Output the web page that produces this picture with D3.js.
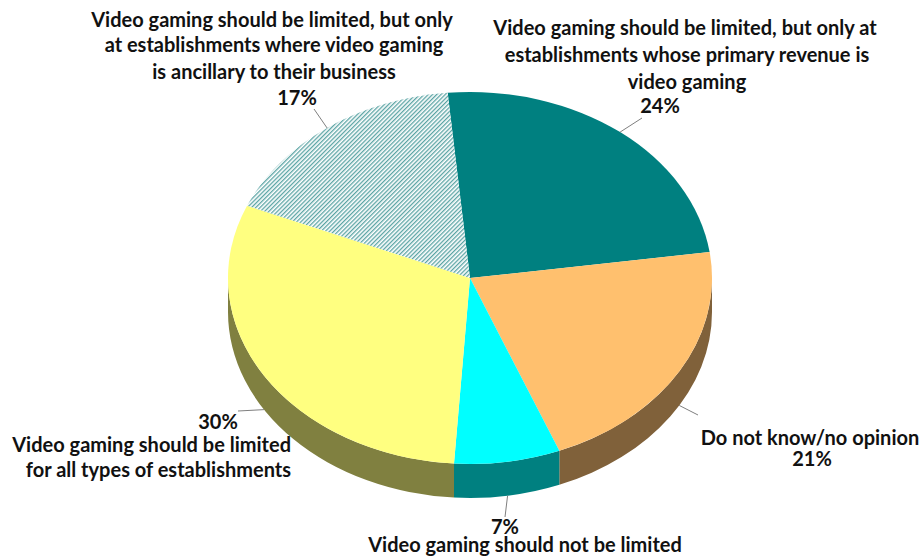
<!DOCTYPE html>
<html>
<head>
<meta charset="utf-8">
<script src="https://cdn.jsdelivr.net/npm/d3@7"></script>
<style>
  html, body { margin: 0; padding: 0; background: #ffffff; }
  svg text { font-family: Lato, "Open Sans", sans-serif; font-weight: 700; font-size: 20px; fill: #111; }
</style>
</head>
<body>
<svg id="chart" width="924" height="557"></svg>
<script>
// Survey responses (percent), in drawing order clockwise from the top
const categories = [
  "Video gaming should be limited, but only at establishments whose primary revenue is video gaming",
  "Do not know/no opinion",
  "Video gaming should not be limited",
  "Video gaming should be limited for all types of establishments",
  "Video gaming should be limited, but only at establishments where video gaming is ancillary to their business"
];
const values = [24, 21, 7, 30, 17];
const valueLabels = ["24%", "21%", "7%", "30%", "17%"];
const topColors = ["#008080", "#FFC06E", "#00FFFF", "#FFFF80", "url(#hatch)"];
const sideColors = ["#004848", "#80613A", "#008080", "#808040", "#5a8f8f"];

const svg = d3.select("#chart");

// Diagonal hatch for the last slice
const defs = svg.append("defs");
const pat = defs.append("pattern")
  .attr("id", "hatch")
  .attr("patternUnits", "userSpaceOnUse")
  .attr("width", 3).attr("height", 3)
  .attr("patternTransform", "rotate(45)");
pat.append("rect").attr("width", 3).attr("height", 3).attr("fill", "#ffffff");
pat.append("rect").attr("x", 0).attr("width", 1.3).attr("height", 3).attr("fill", "#5aa4a4");

// Ellipse geometry of the tilted pie
const cx = 470, cy = 278, rx = 242, ry = 186, depth = 34;
const toRad = d => d * Math.PI / 180;
const startDeg = -5.3;

const pie = d3.pie().sort(null).value(d => d)
  .startAngle(toRad(startDeg)).endAngle(toRad(startDeg + 360));
const arcs = pie(values);

// angle measured clockwise from 12 o'clock
const pt = (a, dy = 0) => [cx + rx * Math.sin(a), cy - ry * Math.cos(a) + dy];

function topPath(a0, a1) {
  const p0 = pt(a0), p1 = pt(a1);
  const large = (a1 - a0) > Math.PI ? 1 : 0;
  return `M${cx},${cy}L${p0[0]},${p0[1]}A${rx},${ry} 0 ${large} 1 ${p1[0]},${p1[1]}Z`;
}

function sidePath(a0, a1) {
  const p0 = pt(a0), p1 = pt(a1), q1 = pt(a1, depth), q0 = pt(a0, depth);
  const large = (a1 - a0) > Math.PI ? 1 : 0;
  return `M${p0[0]},${p0[1]}A${rx},${ry} 0 ${large} 1 ${p1[0]},${p1[1]}` +
         `L${q1[0]},${q1[1]}A${rx},${ry} 0 ${large} 0 ${q0[0]},${q0[1]}Z`;
}

// Visible rim: the front half between 3 and 9 o'clock
const frontLo = Math.PI / 2, frontHi = 3 * Math.PI / 2;
const gSide = svg.append("g");
arcs.forEach((d, i) => {
  const s = Math.max(d.startAngle, frontLo), e = Math.min(d.endAngle, frontHi);
  if (e > s) {
    gSide.append("path").attr("d", sidePath(s, e)).attr("fill", sideColors[i]);
  }
});

const gTop = svg.append("g");
gTop.selectAll("path").data(arcs).join("path")
  .attr("d", d => topPath(d.startAngle, d.endAngle))
  .attr("fill", (d, i) => topColors[i]);

// Leader lines: from the label toward the slice rim
const mid = d => (d.startAngle + d.endAngle) / 2;
const leaderEnds = [[642, 118], [698, 415], [505, 517], [238, 411], [314, 109]];
const gLead = svg.append("g");
arcs.forEach((d, i) => {
  const a = mid(d);
  const front = Math.cos(a) < 0;
  const p = pt(a, front ? depth : 0);
  gLead.append("line")
    .attr("x1", leaderEnds[i][0]).attr("y1", leaderEnds[i][1])
    .attr("x2", p[0]).attr("y2", p[1])
    .attr("stroke", "#7f7f7f").attr("stroke-width", 1);
});

// Data labels
const labelLines = [
  [["Video gaming should be limited, but only at", 685, 35, "middle"],
   ["establishments whose primary revenue is", 687, 62, "middle"],
   ["video gaming", 687, 89, "middle"],
   [valueLabels[0], 660, 113, "middle"]],
  [["Do not know/no opinion", 810, 445, "middle"],
   [valueLabels[1], 812, 466, "middle"]],
  [[valueLabels[2], 505, 534, "middle"],
   ["Video gaming should not be limited", 525, 552, "middle"]],
  [[valueLabels[3], 218, 429, "middle"],
   ["Video gaming should be limited", 291, 452, "end"],
   ["for all types of establishments", 291, 477, "end"]],
  [["Video gaming should be limited, but only", 272, 27, "middle"],
   ["at establishments where video gaming", 274, 52, "middle"],
   ["is ancillary to their business", 274, 79, "middle"],
   [valueLabels[4], 297, 105, "middle"]]
];
const gLab = svg.append("g");
labelLines.forEach(lines => {
  lines.forEach(([t, x, y, anchor]) => {
    gLab.append("text").attr("x", x).attr("y", y)
      .attr("text-anchor", anchor).text(t);
  });
});
</script>
</body>
</html>
